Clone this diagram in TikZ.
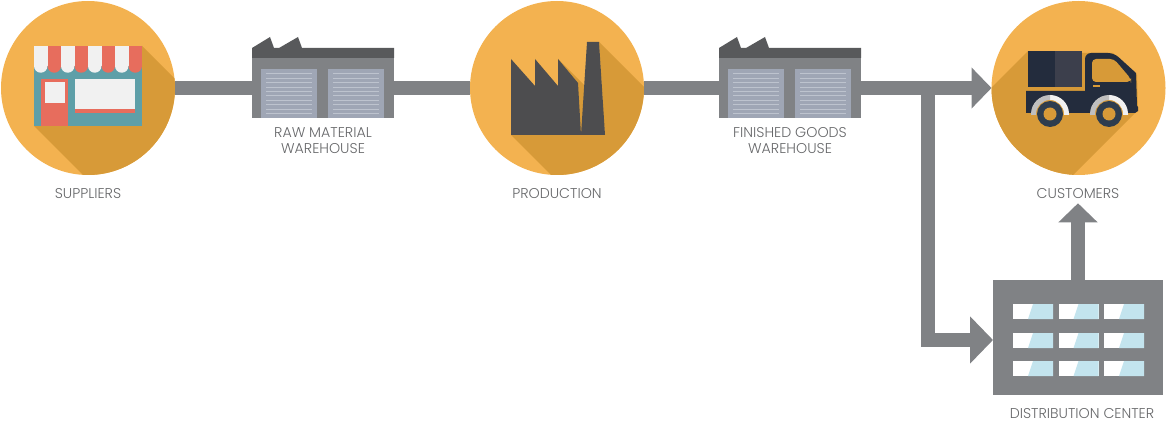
\documentclass[tikz,border=0pt]{standalone}
\usepackage{fontspec}
\setmainfont{Poppins}[UprightFont=* Light]
\usetikzlibrary{arrows.meta}

\definecolor{hubfill}{HTML}{F3B250}
\definecolor{hubshade}{HTML}{D79A38}
\definecolor{flowgray}{HTML}{808285}
\definecolor{roofgray}{HTML}{58595B}
\definecolor{doorgray}{HTML}{9FA6B5}
\definecolor{slatgray}{HTML}{BDC3CE}
\definecolor{labelgray}{HTML}{666769}
\definecolor{shopred}{HTML}{E76D5D}
\definecolor{shopwhite}{HTML}{F1F1F1}
\definecolor{shopteal}{HTML}{5E9FA8}
\definecolor{factorygray}{HTML}{4D4D4F}
\definecolor{truckblue}{HTML}{232C3D}
\definecolor{truckgray}{HTML}{3C3F4C}
\definecolor{wheelblue}{HTML}{2E3D4E}
\definecolor{glassblue}{HTML}{C3E4EE}

\tikzset{
  hub/.style={circle, fill=hubfill, minimum size=174pt, inner sep=0pt, outer sep=0pt},
  shed/.style={rectangle, fill=flowgray, minimum width=142pt, minimum height=60pt, inner sep=0pt, outer sep=0pt},
  depot/.style={rectangle, fill=flowgray, minimum width=170pt, minimum height=115pt, inner sep=0pt, outer sep=0pt},
  flow/.style={draw=flowgray, line width=14pt},
  flowtip/.style={flow, -{Triangle[length=20pt, width=40pt]}},
  caption/.style={text=labelgray, font=\fontsize{14.2}{16}\selectfont, align=center, inner sep=2pt}
}

\begin{document}
\begin{tikzpicture}[x=1pt, y=-1pt]
  \useasboundingbox (0,0) rectangle (1166,422);

  % Main nodes
  \node[hub] (suppliers) at (88,88) {};
  \node[shed] (rawstore) at (323,88) {};
  \node[hub] (production) at (557,88) {};
  \node[shed] (goodsstore) at (790,88) {};
  \node[hub] (customers) at (1078.5,88) {};
  \node[depot] (distrib) at (1078,337.5) {};

  % Labels
  \node[caption] (supplierstext) at (88,194) {SUPPLIERS};
  \node[caption] (rawtext) at (323,141) {RAW MATERIAL\\WAREHOUSE};
  \node[caption] (productiontext) at (557,194) {PRODUCTION};
  \node[caption] (goodstext) at (790,141) {FINISHED GOODS\\WAREHOUSE};
  \node[caption, inner ysep=4pt] (customerstext) at (1078,194) {CUSTOMERS};
  \node[caption, inner sep=0pt] (distribtext) at (1082,413.5) {DISTRIBUTION CENTER};

  % Connectors
  \coordinate (branch) at (928,88);
  \draw[flow] (suppliers) -- (rawstore);
  \draw[flow] (rawstore) -- (production);
  \draw[flow] (production) -- (goodsstore);
  \draw[flowtip] (goodsstore) -- (customers);
  \draw[flowtip, -{Triangle[length=23pt, width=46pt]}] (branch) |- ([yshift=-2.5pt]distrib.west);
  \draw[flowtip, -{Triangle[length=19pt, width=38pt]}] (distrib) -- (customerstext);

  % Warehouses
  \foreach \dx in {0,467} {
    \begin{scope}[xshift=\dx pt]
      \fill[roofgray] (252,58) -- (252,48) -- (270,37) -- (274,48) -- (279,48) -- (298,37) -- (302,48)
        -- (394,48) -- (394,58) -- cycle;
      \foreach \doorx in {261,328} {
        \fill[doorgray] (\doorx,69) rectangle (\doorx+55.5,118);
        \foreach \slaty in {74,78.4,...,115} {
          \draw[slatgray, line width=1pt] (\doorx+5,\slaty) -- (\doorx+51,\slaty);
        }
      }
    \end{scope}
  }

  % Shop
  \begin{scope}
    \clip (suppliers.center) circle (87pt);
    \fill[hubshade] (142,46) -- (262,166) -- (154,246) -- (34,126) -- cycle;
  \end{scope}
  \fill[shopteal] (34,60) rectangle (142,126);
  \foreach \i/\col in {0/shopwhite,1/shopred,2/shopwhite,3/shopred,4/shopwhite,5/shopred,6/shopwhite,7/shopred} {
    \fill[\col] (34+13.5*\i,46) rectangle (47.5+13.5*\i,66);
    \fill[\col] (47.5+13.5*\i,66) arc[start angle=0, end angle=-180, radius=6.75pt];
  }
  \fill[shopred] (41,79) rectangle (68,126);
  \fill[shopwhite] (44.5,82) rectangle (65,103);
  \fill[shopwhite] (75,79) rectangle (135,109);
  \fill[shopred] (75,109) rectangle (135,113);

  % Factory
  \begin{scope}
    \clip (production.center) circle (87pt);
    \fill[hubshade] (511,135) -- (605,135) -- (599,42) -- (719,162) -- (631,255) -- cycle;
    \fill[hubshade] (558,59) -- (620,121) -- (581,135) -- cycle;
  \end{scope}
  \fill[factorygray] (511,59) -- (535,86) -- (535,59) -- (558,86) -- (558,59) -- (578,83) -- (581,135)
    -- (511,135) -- cycle;
  \fill[factorygray] (587,42) -- (599,42) -- (605,135) -- (581,135) -- cycle;

  % Truck
  \begin{scope}
    \clip (customers.center) circle (87pt);
    \fill[hubshade] (1028,51) -- (1085,53) -- (1113,53) -- (1137,75) -- (1138,110) -- (1073,175)
      -- (970,190) -- (950,129) -- cycle;
  \end{scope}
  \fill[truckblue] (1028,51) rectangle (1055,87);
  \fill[truckgray] (1055,51) rectangle (1082,87);
  \fill[truckblue] (1026,91) -- (1085,91) -- (1085,62) [rounded corners=6pt] -- (1085,53) -- (1114,53)
    [sharp corners] -- (1136,73) -- (1137,106) -- (1138,107) -- (1138,111) -- (1135,113) -- (1026,113) -- cycle;
  \fill[hubshade, rounded corners=4pt] (1092,59) -- (1114,59) -- (1131,79) -- (1131,82) -- (1092,82) -- cycle;
  \fill[hubshade] (1093,85.5) rectangle (1100,87);
  \foreach \wheelx in {1050,1109} {
    \fill[hubshade] (\wheelx,114) circle (15pt);
    \fill[hubshade] (\wheelx-19,114) rectangle (\wheelx+19,118);
    \fill[shopwhite] (\wheelx,95) arc[start angle=90, end angle=0, radius=19pt] -- ++(0,1) -- ++(-5,0) -- ++(0,-1)
      arc[start angle=0, end angle=90, radius=14pt] -- cycle;
    \fill[lightgray] (\wheelx,95) arc[start angle=90, end angle=180, radius=19pt] -- ++(0,1) -- ++(5,0) -- ++(0,-1)
      arc[start angle=180, end angle=90, radius=14pt] -- cycle;
    \fill[wheelblue] (\wheelx,114) circle (13pt);
    \fill[hubshade] (\wheelx,114) circle (6.5pt);
  }

  % Depot windows
  \foreach \winy in {304,333,361} {
    \foreach \winx in {1013,1058.5,1104} {
      \fill[white] (\winx,\winy) rectangle (\winx+40,\winy+15);
      \fill[glassblue] (\winx+15,\winy+15) -- (\winx+20,\winy) -- (\winx+40,\winy) -- (\winx+40,\winy+15) -- cycle;
    }
  }
\end{tikzpicture}
\end{document}
